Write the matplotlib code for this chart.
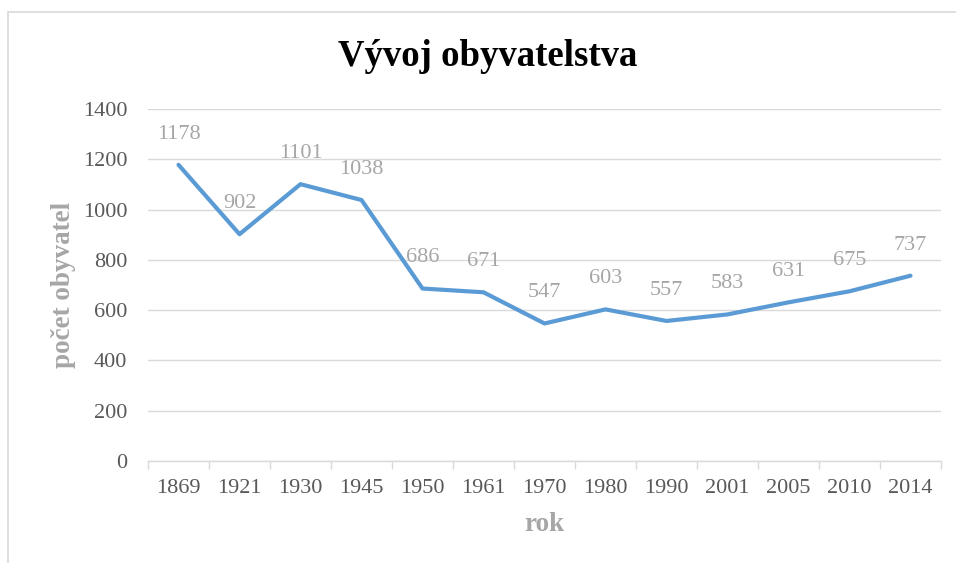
import matplotlib.pyplot as plt
from matplotlib.patches import Rectangle

years = ["1869", "1921", "1930", "1945", "1950", "1961", "1970",
         "1980", "1990", "2001", "2005", "2010", "2014"]
population = [1178, 902, 1101, 1038, 686, 671, 547, 603, 557, 583, 631, 675, 737]
y_ticks = [0, 200, 400, 600, 800, 1000, 1200, 1400]

plt.rcParams["font.family"] = ["Liberation Serif", "DejaVu Serif"]

fig = plt.figure(figsize=(9.56, 5.63), dpi=100)
ax = fig.add_axes([148 / 956, 1 - 461 / 563, (941 - 148) / 956, (461 - 109) / 563])

# chart area border (only top/left visible in the cropped reference)
fig.patches.append(Rectangle((8 / 956, -0.1), 1.2, 1.1 - 12 / 563,
                             transform=fig.transFigure, fill=False,
                             edgecolor="#D9D9D9", linewidth=1.2))

x = list(range(len(years)))
ax.plot(x, population, color="#5B9BD5", linewidth=3.0, solid_capstyle="round",
        solid_joinstyle="round", zorder=3)
for xi, v in zip(x, population):
    ax.annotate(str(v), (xi, v), xytext=(0, 22), textcoords="offset points",
                ha="center", va="center", fontsize=16, color="#A6A6A6")

ax.set_xlim(-0.5, len(years) - 0.5)
ax.set_ylim(0, 1400)
ax.set_yticks(y_ticks)
ax.set_xticks(x)
ax.set_xticklabels(years)
ax.set_xticks([i - 0.5 for i in range(len(years) + 1)], minor=True)
ax.tick_params(axis="x", which="major", length=0, pad=13, labelsize=16, labelcolor="#595959")
ax.tick_params(axis="x", which="minor", length=6, color="#D9D9D9", width=1)
ax.tick_params(axis="y", length=0, pad=15, labelsize=16, labelcolor="#595959")
ax.grid(axis="y", color="#D9D9D9", linewidth=1)
ax.set_axisbelow(True)
for side in ["top", "right", "left"]:
    ax.spines[side].set_visible(False)
ax.spines["bottom"].set_color("#D9D9D9")
ax.spines["bottom"].set_linewidth(1)

ax.set_xlabel("rok", fontsize=19.5, fontweight="bold", color="#A6A6A6", labelpad=10)
ax.set_ylabel("počet obyvatel", fontsize=19.5, fontweight="bold", color="#A6A6A6", labelpad=5)

fig.text(488 / 956, 1 - 57 / 563, "Vývoj obyvatelstva", ha="center", va="center",
         fontsize=26.5, fontweight="bold", color="#000000")

fig.savefig("out.png", dpi=100, facecolor="white")
